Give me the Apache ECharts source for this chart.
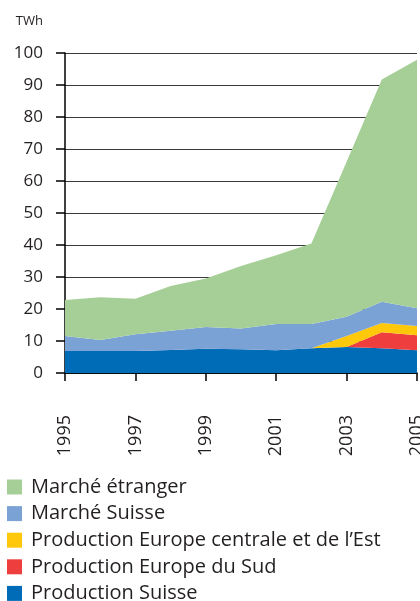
<!DOCTYPE html>
<html>
<head>
<meta charset="utf-8">
<script src="https://cdn.jsdelivr.net/npm/echarts@6/dist/echarts.min.js"></script>
<style>
  html, body { margin: 0; padding: 0; background: #fff; }
  #chart { width: 420px; height: 601px; }
</style>
</head>
<body>
<div id="chart"></div>
<script>
// years on the x axis
const years = ['1995', '1996', '1997', '1998', '1999', '2000', '2001', '2002', '2003', '2004', '2005']

// TWh per series (stacked from bottom to top)
const productionSuisse = [6.9, 6.9, 6.9, 7.2, 7.6, 7.4, 7.1, 7.7, 8.1, 7.7, 7.1]
const productionSud = [0, 0, 0, 0, 0, 0, 0, 0, 0, 5.0, 4.7]
const productionEst = [0, 0, 0, 0, 0, 0, 0, 0, 3.5, 2.9, 2.9]
const marcheSuisse = [4.7, 3.4, 5.2, 6.0, 6.8, 6.5, 8.2, 7.6, 6.0, 6.7, 5.5]
const marcheEtranger = [11.2, 13.4, 11.1, 14.0, 15.1, 19.5, 21.5, 25.2, 48.4, 69.4, 77.7]

const font = 'Open Sans'
const textColor = '#231f20'

const chart = echarts.init(document.getElementById('chart'), null, { renderer: 'canvas' })

function area(name, data, color) {
  return {
    name,
    type: 'line',
    stack: 'total',
    data,
    symbol: 'none',
    lineStyle: { width: 0 },
    itemStyle: { color },
    areaStyle: { color, opacity: 1 },
    animation: false
  }
}

chart.setOption({
  textStyle: { fontFamily: font },
  grid: {
    left: 65,
    right: 3,
    top: 53,
    bottom: 228,
    outerBoundsMode: 'none'
  },
  legend: {
    orient: 'vertical',
    left: 7,
    top: 477,
    height: 140,
    padding: 0,
    itemWidth: 15,
    itemHeight: 15,
    itemGap: 6.6,
    icon: 'rect',
    data: ['Marché étranger', 'Marché Suisse', 'Production Europe centrale et de l\u2019Est', 'Production Europe du Sud', 'Production Suisse'],
    textStyle: { fontSize: 20, color: textColor, fontFamily: font, padding: [0, 0, 0, 4] }
  },
  xAxis: {
    type: 'category',
    data: years,
    boundaryGap: false,
    axisLine: { lineStyle: { color: '#000', width: 1.5 } },
    axisTick: { interval: 1, length: 8, lineStyle: { color: '#000', width: 1.5 } },
    axisLabel: {
      interval: 1,
      rotate: 90,
      fontSize: 18,
      color: textColor,
      margin: 42
    }
  },
  yAxis: {
    type: 'value',
    name: 'TWh',
    nameLocation: 'end',
    nameGap: 25,
    nameTextStyle: { fontSize: 13, color: textColor, align: 'right', padding: [0, 22, 0, 0] },
    min: 0,
    max: 100,
    interval: 10,
    axisLine: { show: true, lineStyle: { color: '#000', width: 1.5 } },
    axisTick: { show: true, length: 9, lineStyle: { color: '#000', width: 1.5 } },
    axisLabel: { fontSize: 17, color: textColor, margin: 22 },
    splitLine: { lineStyle: { color: '#3a3a3a', width: 1 } }
  },
  series: [
    area('Production Suisse', productionSuisse, '#006bb6'),
    area('Production Europe du Sud', productionSud, '#ee3e3e'),
    area('Production Europe centrale et de l\u2019Est', productionEst, '#ffc80a'),
    area('Marché Suisse', marcheSuisse, '#7ba2d5'),
    area('Marché étranger', marcheEtranger, '#a6cf98')
  ]
})
</script>
</body>
</html>
